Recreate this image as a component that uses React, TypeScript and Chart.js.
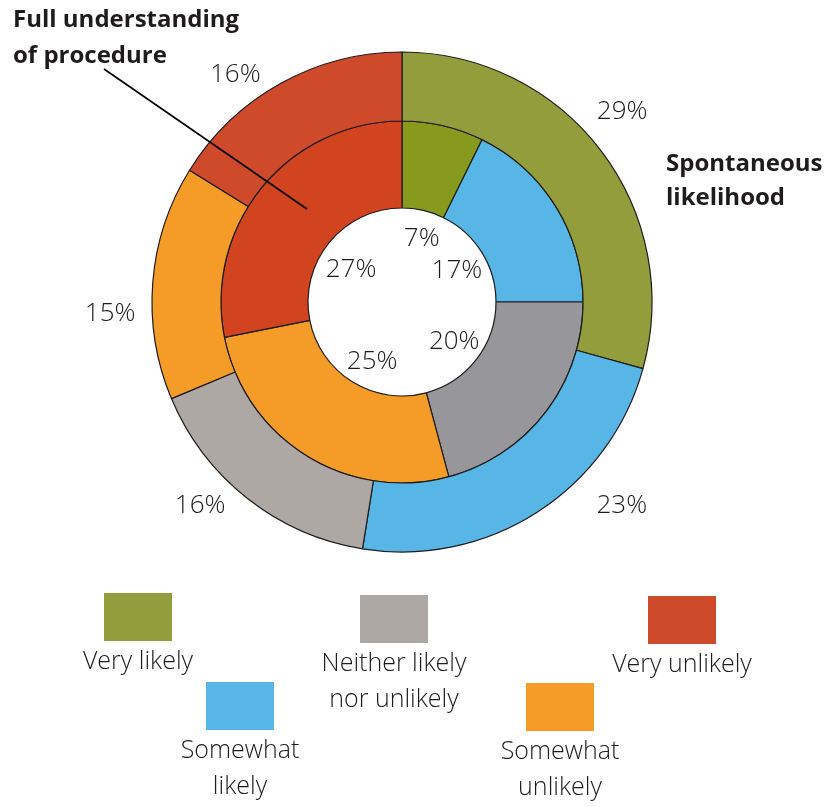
import React, { useEffect, useRef } from "react";
import { Chart, registerables } from "chart.js";

Chart.register(...registerables);

const categories = ["Very likely", "Somewhat likely", "Neither likely nor unlikely", "Somewhat unlikely", "Very unlikely"];
const spontaneousLikelihood = [29, 23, 16, 15, 16];
const fullUnderstanding = [7, 17, 20, 25, 27];

const outerColors = ["#949D3C", "#58B6E6", "#ADA8A3", "#F59C28", "#CF4A2A"];
const innerColors = ["#889A1E", "#58B6E6", "#97979B", "#F59C28", "#D1441F"];

// label placement tweaks (style only)
const outerLabelNudgeDeg = [-3.8, -14.6, 6.7, -6.7, -7.0];
const outerLabelRadius = [292, 299, 286, 292, 283];
const innerLabelNudgeDeg = [4, 1, -1, -5, -6];
const innerLabelRadius = [67, 64, 65, 66, 61];

const legendLines = [["Very likely"], ["Somewhat", "likely"], ["Neither likely", "nor unlikely"], ["Somewhat", "unlikely"], ["Very unlikely"]];
const legendSlots = [
  { x: 104, y: 593 },
  { x: 206, y: 682 },
  { x: 360, y: 595 },
  { x: 526, y: 683 },
  { x: 648, y: 596 },
];

const TEXT = "#1E1B1C";
const LIGHT = '300 26px "Open Sans"';
const LEGEND_FONT = '300 25px "Open Sans"';
const BOLD = 'bold 24px "Open Sans"';

const labelsPlugin = {
  id: "customLabels",
  afterDraw(chart: any) {
    const ctx = chart.ctx;
    ctx.save();
    ctx.fillStyle = TEXT;
    ctx.textAlign = "center";
    ctx.textBaseline = "middle";
    ctx.font = LIGHT;
    const outer = chart.getDatasetMeta(0).data;
    outer.forEach((arc: any, i: number) => {
      const mid = (arc.startAngle + arc.endAngle) / 2 + (outerLabelNudgeDeg[i] * Math.PI) / 180;
      const r = outerLabelRadius[i];
      ctx.fillText(spontaneousLikelihood[i] + "%", arc.x + r * Math.cos(mid), arc.y + r * Math.sin(mid) + 1);
    });
    const inner = chart.getDatasetMeta(1).data;
    inner.forEach((arc: any, i: number) => {
      const mid = (arc.startAngle + arc.endAngle) / 2 + (innerLabelNudgeDeg[i] * Math.PI) / 180;
      const r = innerLabelRadius[i];
      ctx.fillText(fullUnderstanding[i] + "%", arc.x + r * Math.cos(mid), arc.y + r * Math.sin(mid) + 1);
    });

    // titles
    ctx.font = BOLD;
    ctx.textAlign = "left";
    ctx.fillText("Full understanding", 13, 20);
    ctx.fillText("of procedure", 13, 56);
    ctx.fillText("Spontaneous", 666, 164);
    ctx.fillText("likelihood", 666, 198);

    // leader line
    ctx.strokeStyle = "#000";
    ctx.lineWidth = 1.6;
    ctx.beginPath();
    ctx.moveTo(104, 69);
    ctx.lineTo(307, 209);
    ctx.stroke();

    // legend
    ctx.font = LEGEND_FONT;
    ctx.textAlign = "center";
    categories.forEach((_c, i) => {
      const s = legendSlots[i];
      ctx.fillStyle = outerColors[i];
      ctx.fillRect(s.x, s.y, 68, 48);
      ctx.fillStyle = TEXT;
      legendLines[i].forEach((line, j) => {
        ctx.fillText(line, s.x + 34, s.y + 48 + 21 + j * 36);
      });
    });
    ctx.restore();
  },
};

export default function App() {
  const ref = useRef<HTMLCanvasElement>(null);
  useEffect(() => {
    if (!ref.current) return;
    const chart = new Chart(ref.current, {
      type: "doughnut",
      data: {
        labels: categories,
        datasets: [
          {
            label: "Spontaneous likelihood",
            data: spontaneousLikelihood,
            backgroundColor: outerColors,
            borderColor: TEXT,
            borderWidth: 1.2,
            weight: 69,
          },
          {
            label: "Full understanding of procedure",
            data: fullUnderstanding,
            backgroundColor: innerColors,
            borderColor: TEXT,
            borderWidth: 1.2,
            weight: 87,
          },
        ],
      },
      options: {
        responsive: false,
        animation: false,
        radius: 250,
        cutout: "37.6%",
        layout: { padding: { left: 100, right: 133, top: 20, bottom: 223 } },
        plugins: {
          legend: { display: false },
          tooltip: { enabled: false },
        },
      } as any,
      plugins: [labelsPlugin],
    });
    return () => chart.destroy();
  }, []);
  return (
    <div style={{ position: "absolute", left: 0, top: 0, width: 837, height: 807, background: "#fff" }}>
      <canvas ref={ref} width={837} height={807} />
    </div>
  );
}
